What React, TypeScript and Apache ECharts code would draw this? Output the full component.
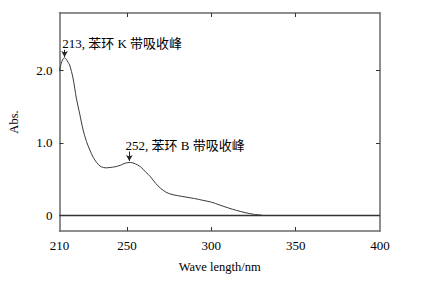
import React, { useEffect, useRef } from "react";
import * as echarts from "echarts";

const wavelengths = [210, 211, 212, 213, 214, 215, 216, 218, 220, 222, 224, 226, 228, 230, 232, 234, 236, 238, 240, 243, 246, 249, 252, 255, 258, 261, 264, 267, 270, 273, 276, 280, 285, 290, 295, 300, 305, 310, 315, 320, 325, 330];
const absorbance = [2.0, 2.1, 2.16, 2.18, 2.16, 2.12, 2.08, 1.9, 1.62, 1.4, 1.18, 1.02, 0.9, 0.8, 0.73, 0.68, 0.66, 0.655, 0.66, 0.67, 0.69, 0.72, 0.73, 0.71, 0.67, 0.6, 0.53, 0.44, 0.37, 0.32, 0.29, 0.27, 0.25, 0.23, 0.205, 0.18, 0.14, 0.1, 0.065, 0.035, 0.012, 0.0];
const xTickLabels = [210, 250, 300, 350, 400];
const xTicks = [250, 300, 350];
const yTickLabels = [0, 1, 2];
const peakK = { wl: 213, abs: 2.18, text: "213, 苯环 K 带吸收峰" };
const peakB = { wl: 252, abs: 0.73, text: "252, 苯环 B 带吸收峰" };

const FONT = "'Liberation Serif', 'Times New Roman', 'Noto Sans CJK SC', serif";
const AXIS_COLOR = "#6a6a6a";

export default function App() {
  const ref = useRef<HTMLDivElement>(null);
  useEffect(() => {
    document.body.style.margin = "0";
    if (!ref.current) return;
    const chart = echarts.init(ref.current, undefined, { renderer: "svg" });
    const data = wavelengths.map((w, i) => [w, absorbance[i]]);
    const axisLine = { show: true, onZero: false, lineStyle: { color: AXIS_COLOR, width: 1.5 } };
    chart.setOption({
      animation: false,
      backgroundColor: "#fff",
      grid: { left: 56, right: 41, top: 13, bottom: 55 },
      xAxis: [
        {
          type: "value",
          min: 210,
          max: 400,
          name: "Wave length/nm",
          nameLocation: "middle",
          nameGap: 30,
          nameTextStyle: { fontFamily: FONT, fontSize: 12.5, color: "#000" },
          axisLine,
          splitLine: { show: false },
          axisTick: { show: true, inside: true, length: 4, customValues: xTicks, lineStyle: { color: "#333" } },
          axisLabel: { customValues: xTickLabels, margin: 8, fontFamily: FONT, fontSize: 13, color: "#000" },
        },
        {
          type: "value",
          min: 210,
          max: 400,
          position: "top",
          axisLine,
          splitLine: { show: false },
          axisTick: { show: true, inside: true, length: 4, customValues: xTicks, lineStyle: { color: "#333" } },
          axisLabel: { show: false },
        },
      ],
      yAxis: [
        {
          type: "value",
          min: -0.22,
          max: 2.8,
          name: "Abs.",
          nameLocation: "middle",
          nameGap: 39,
          nameRotate: 90,
          nameTextStyle: { fontFamily: FONT, fontSize: 12.5, color: "#000" },
          axisLine,
          splitLine: { show: false },
          axisTick: { show: true, inside: true, length: 4, customValues: yTickLabels, lineStyle: { color: "#333" } },
          axisLabel: {
            customValues: yTickLabels,
            margin: 7,
            fontFamily: FONT,
            fontSize: 13,
            color: "#000",
            formatter: (v: number) => (v === 0 ? "0" : v.toFixed(1)),
          },
        },
        {
          type: "value",
          min: -0.22,
          max: 2.8,
          position: "right",
          axisLine,
          splitLine: { show: false },
          axisTick: { show: true, inside: true, length: 4, customValues: yTickLabels, lineStyle: { color: "#333" } },
          axisLabel: { show: false },
        },
      ],
      series: [
        {
          type: "line",
          data,
          smooth: 0.3,
          showSymbol: false,
          lineStyle: { color: "#3a3a3a", width: 1 },
          markLine: {
            silent: true,
            symbol: ["none", "none"],
            label: { show: false },
            lineStyle: { color: "#333", width: 1.3, type: "solid" },
            data: [[{ coord: [210, 0] }, { coord: [400, 0] }]],
          },
        },
        {
          type: "line",
          data: [],
          markLine: {
            silent: true,
            symbol: ["none", "arrow"],
            symbolSize: [5, 6],
            label: { show: false },
            lineStyle: { color: "#222", width: 1, type: "solid" },
            data: [
              [{ coord: [peakK.wl, peakK.abs + 0.11] }, { coord: [peakK.wl, peakK.abs + 0.01] }],
              [{ coord: [peakB.wl - 0.6, peakB.abs + 0.15] }, { coord: [peakB.wl - 0.6, peakB.abs + 0.02] }],
            ],
          },
          markPoint: {
            silent: true,
            symbol: "circle",
            symbolSize: 0,
            label: {
              show: true,
              position: "right",
              distance: 0,
              fontFamily: FONT,
              fontSize: 13,
              color: "#000",
              formatter: (p: any) => p.name,
            },
            data: [
              { name: peakK.text, coord: [211.6, 2.375] },
              { name: peakB.text, coord: [249.2, 0.97] },
            ],
          },
        },
      ],
    });
    return () => chart.dispose();
  }, []);
  return <div ref={ref} style={{ width: 421, height: 286 }} />;
}
